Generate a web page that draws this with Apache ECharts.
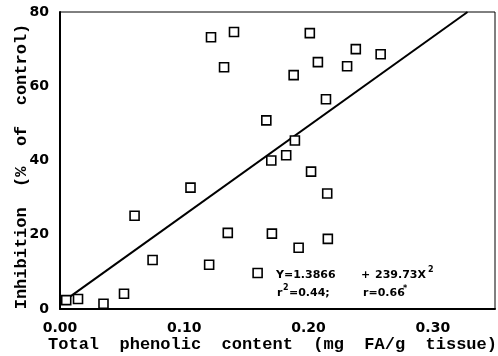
<!DOCTYPE html>
<html>
<head>
<meta charset="utf-8">
<script src="https://cdn.jsdelivr.net/npm/echarts@6/dist/echarts.min.js"></script>
<style>
html,body{margin:0;padding:0;background:#fff;}
#chart{width:498px;height:356px;}
</style>
</head>
<body>
<div id="chart"></div>
<script>
// Observed points: total phenolic content (mg FA/g tissue) vs inhibition (% of control)
var phenolic = [0.005, 0.0145, 0.035, 0.0515, 0.060, 0.0745, 0.105, 0.120, 0.135, 0.1215,
                0.140, 0.132, 0.201, 0.238, 0.258, 0.2075, 0.231, 0.188, 0.214, 0.166,
                0.189, 0.170, 0.182, 0.202, 0.215, 0.1705, 0.2155, 0.192, 0.159];
var inhibition = [2.4, 2.7, 1.4, 4.1, 25.1, 13.2, 32.7, 11.9, 20.5, 73.2,
                  74.6, 65.1, 74.3, 70.0, 68.6, 66.5, 65.4, 63.0, 56.5, 50.8,
                  45.4, 40.0, 41.4, 37.0, 31.1, 20.3, 18.9, 16.5, 9.7];
// Regression line endpoints (Y = 1.3866 + 239.73X)
var fitX = [0, 0.3279];
var fitY = [1.3866, 80];
var xTicks = [0, 0.1, 0.2, 0.3];
var yTicks = [0, 20, 40, 60, 80];

var points = phenolic.map(function (x, i) { return [x, inhibition[i]]; });
var fitLine = fitX.map(function (x, i) { return [x, fitY[i]]; });

var chart = echarts.init(document.getElementById('chart'), null, {renderer: 'canvas'});
var tickFont = {fontFamily: 'DejaVu Sans', fontWeight: 'bold', fontSize: 14, color: '#000'};
var noteFont = {fontFamily: 'DejaVu Sans', fontWeight: 'bold', fontSize: 11, fill: '#000'};
var supFont = {fontFamily: 'DejaVu Sans', fontWeight: 'bold', fontSize: 8, fill: '#000'};

chart.setOption({
  animation: false,
  backgroundColor: '#fff',
  grid: {left: 60, right: 3, top: 12, bottom: 47, show: true, borderColor: '#000', borderWidth: 1,
         containLabel: false, outerBoundsMode: 'none'},
  xAxis: {
    type: 'value', min: 0, max: 0.35, interval: 0.1,
    axisLine: {lineStyle: {color: '#000', width: 2}},
    axisTick: {show: false},
    splitLine: {show: false},
    axisLabel: Object.assign({margin: 12, formatter: function (v) {
      for (var i = 0; i < xTicks.length; i++) { if (Math.abs(v - xTicks[i]) < 1e-9) return xTicks[i].toFixed(2); }
      return '';
    }}, tickFont),
    name: 'Total  phenolic  content  (mg  FA/g  tissue)',
    nameLocation: 'middle', nameGap: 27, nameMoveOverlap: false,
    nameTextStyle: {fontFamily: 'Liberation Mono', fontWeight: 'bold', fontSize: 17, color: '#000', padding: [0, 10, 0, 0]}
  },
  yAxis: {
    type: 'value', min: 0, max: 80, interval: 20,
    axisLine: {lineStyle: {color: '#000', width: 2}},
    axisTick: {show: false},
    splitLine: {show: false},
    axisLabel: Object.assign({margin: 11, formatter: function (v) {
      return yTicks.indexOf(v) >= 0 ? String(v) : '';
    }}, tickFont),
    name: 'Inhibition  (%  of  control)',
    nameLocation: 'middle', nameGap: 30, nameRotate: 90, nameMoveOverlap: false,
    nameTextStyle: {fontFamily: 'Liberation Mono', fontWeight: 'bold', fontSize: 17, color: '#000', padding: [0, 12, 0, 0]}
  },
  series: [
    {type: 'line', data: fitLine, symbol: 'none', z: 2,
     lineStyle: {color: '#000', width: 2}},
    {type: 'scatter', data: points, symbol: 'rect', symbolSize: 9, z: 3,
     itemStyle: {color: '#fff', borderColor: '#000', borderWidth: 1.6, opacity: 1}}
  ],
  graphic: [
    {type: 'text', left: 276, top: 270, style: Object.assign({text: 'Y=1.3866'}, noteFont)},
    {type: 'text', left: 361, top: 270, style: Object.assign({text: '+'}, noteFont)},
    {type: 'text', left: 375, top: 270, style: Object.assign({text: '239.73X'}, noteFont)},
    {type: 'text', left: 428, top: 266, style: Object.assign({text: '2'}, supFont)},
    {type: 'text', left: 277, top: 288, style: Object.assign({text: 'r'}, noteFont)},
    {type: 'text', left: 283, top: 284, style: Object.assign({text: '2'}, supFont)},
    {type: 'text', left: 289, top: 288, style: Object.assign({text: '=0.44;'}, noteFont)},
    {type: 'text', left: 363, top: 288, style: Object.assign({text: 'r=0.66'}, noteFont)},
    {type: 'text', left: 403, top: 285, style: Object.assign({text: '*'}, supFont)}
  ]
});
</script>
</body>
</html>
